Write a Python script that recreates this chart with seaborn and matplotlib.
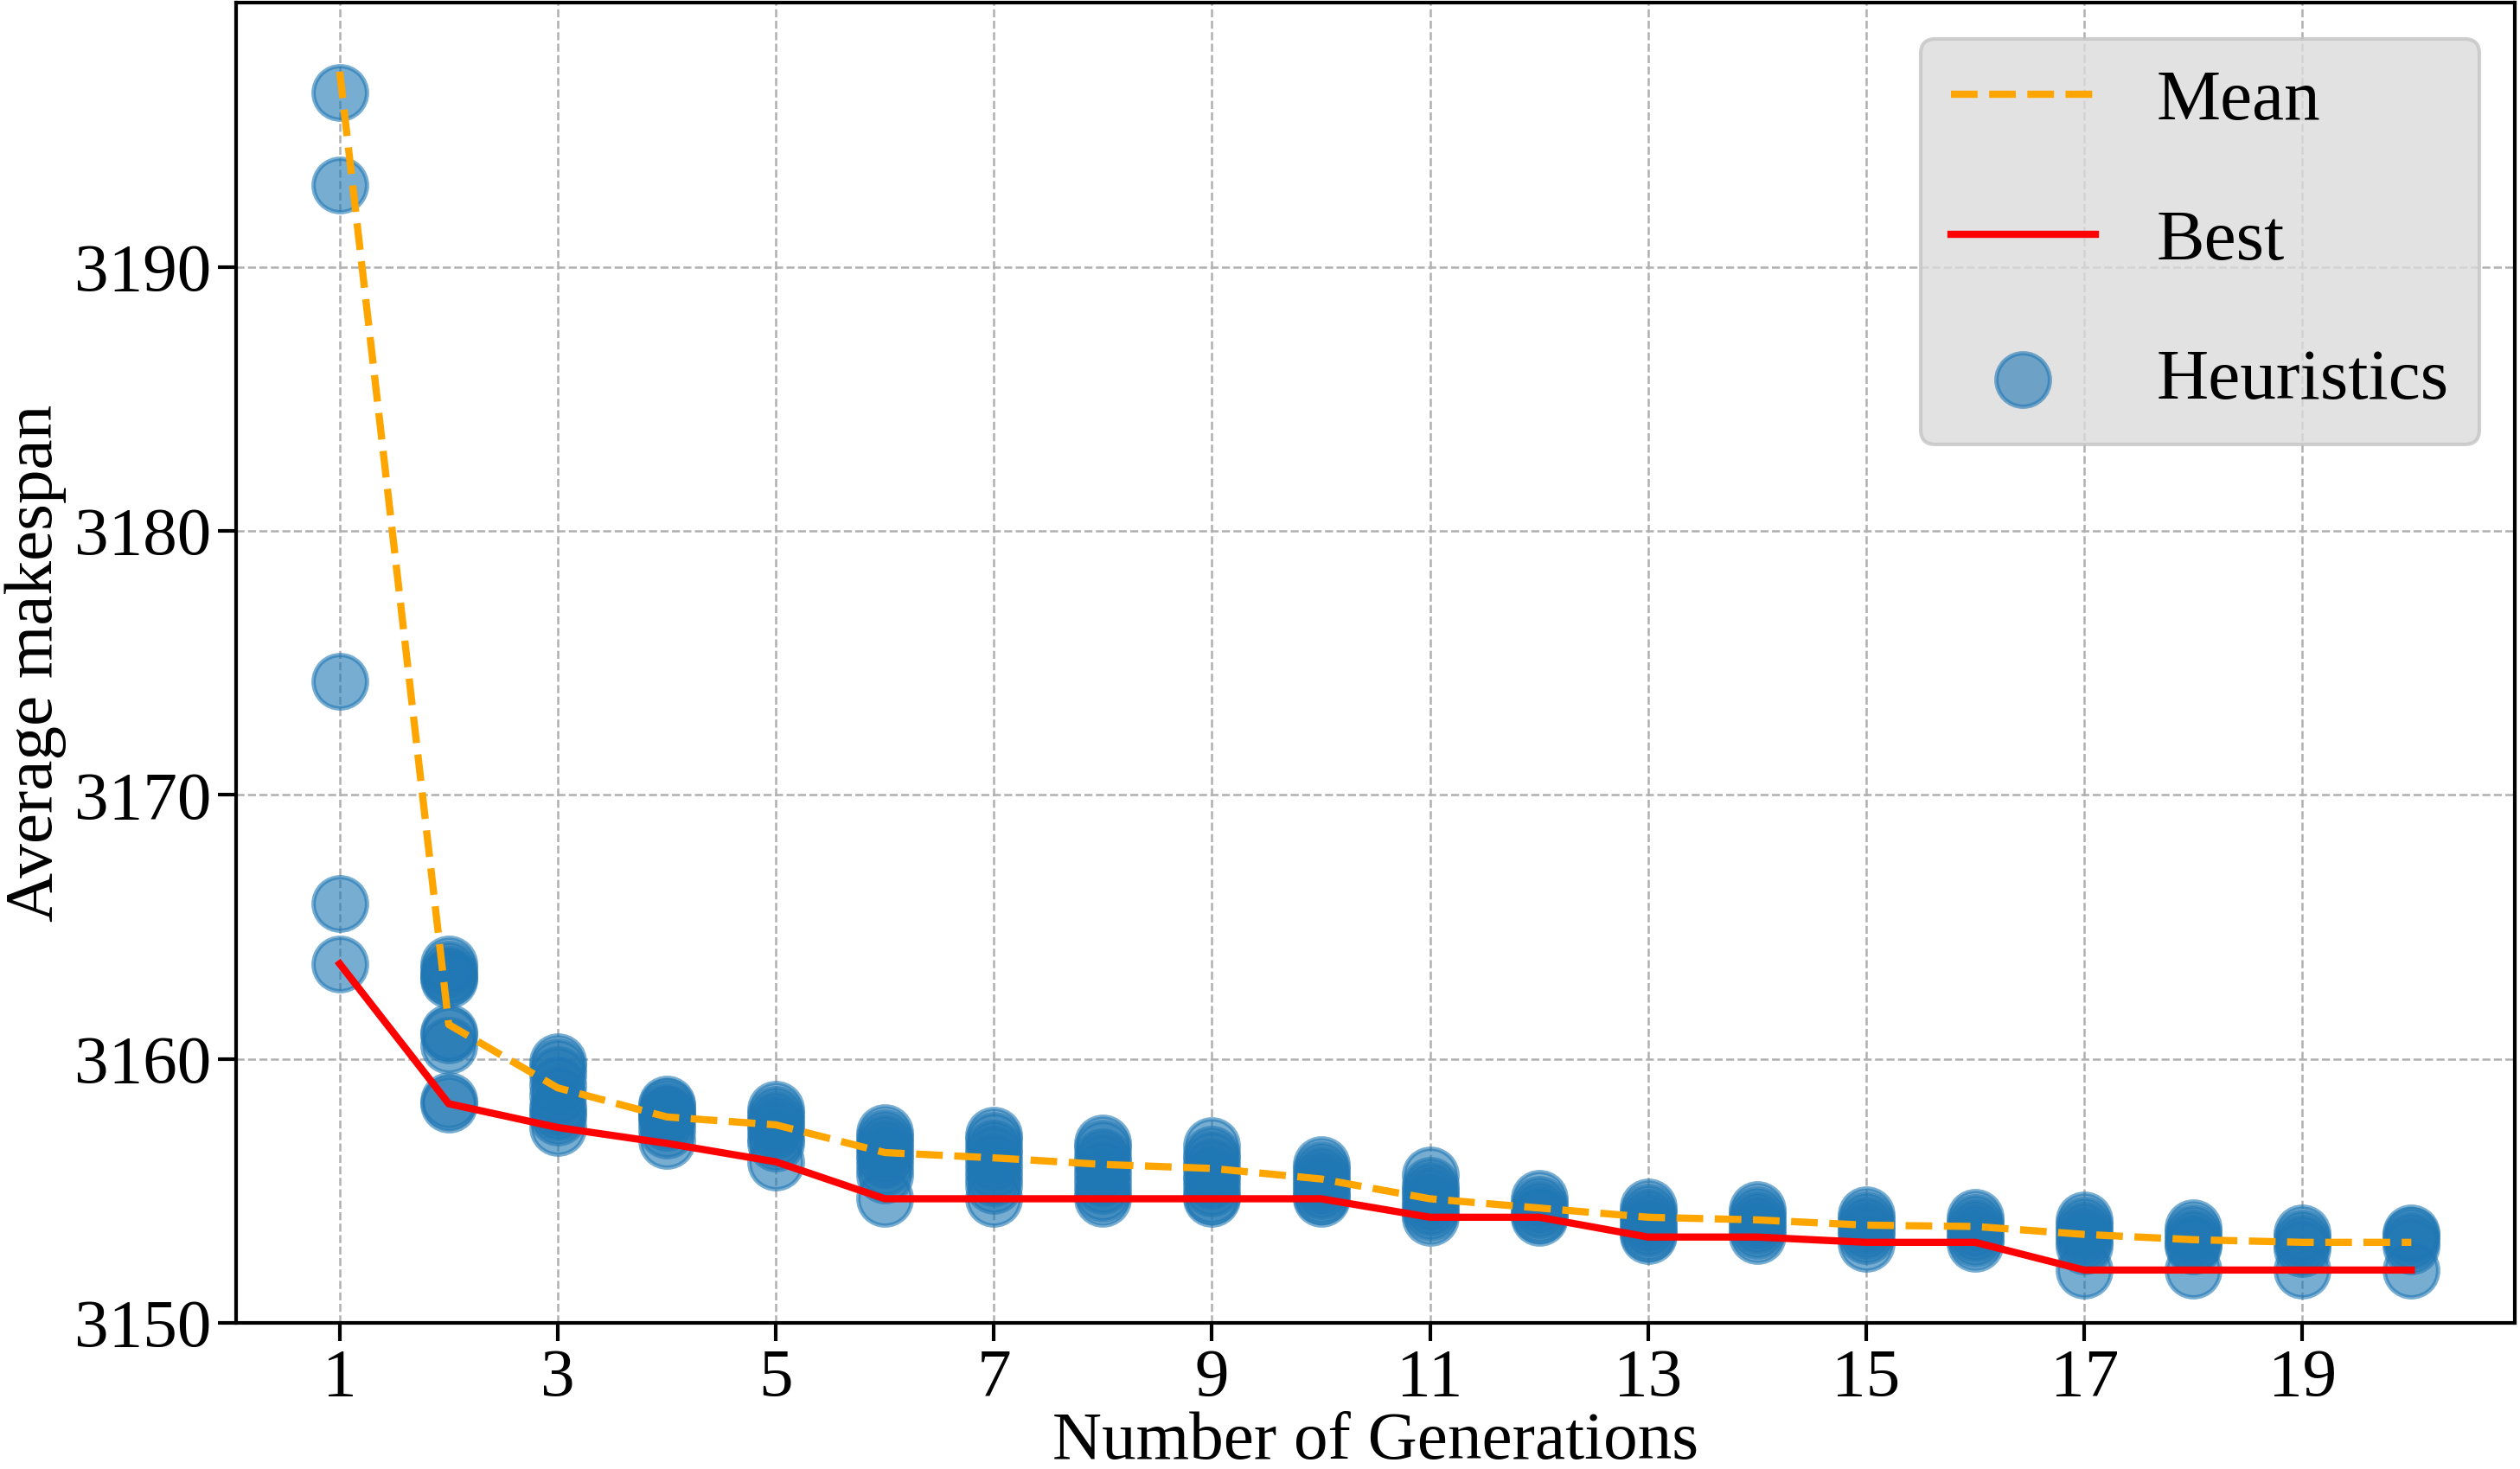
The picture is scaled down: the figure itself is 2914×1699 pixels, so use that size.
import pandas as pd
import matplotlib
matplotlib.use("Agg")
import matplotlib.pyplot as plt
import seaborn as sns

generations = list(range(1, 21))

mean_makespan = [3197.4, 3161.3, 3158.9, 3157.8, 3157.5, 3156.45, 3156.25, 3156.0, 3155.85, 3155.45,
                 3154.7, 3154.35, 3154.0, 3153.9, 3153.7, 3153.65, 3153.35, 3153.15, 3153.05, 3153.05]

best_makespan = [3163.6, 3158.3, 3157.4, 3156.8, 3156.1, 3154.7, 3154.7, 3154.7, 3154.7, 3154.7,
                 3154.0, 3154.0, 3153.25, 3153.25, 3153.05, 3153.05, 3152.0, 3152.0, 3152.0, 3152.0]

heuristics = {
    1: [3196.6, 3193.1, 3174.3, 3165.9, 3163.6],
    2: [3163.6, 3163.4, 3163.2, 3163.0, 3163.1, 3161.0, 3160.9, 3160.5, 3158.4, 3158.3],
    3: [3159.9, 3159.7, 3159.4, 3159.0, 3158.6, 3158.2, 3158.0, 3157.8, 3157.4],
    4: [3158.3, 3158.2, 3158.0, 3157.9, 3157.8, 3157.6, 3157.3, 3156.9],
    5: [3158.1, 3157.9, 3157.7, 3157.5, 3157.3, 3157.0, 3156.8, 3156.1],
    6: [3157.2, 3157.0, 3156.8, 3156.6, 3156.4, 3156.2, 3155.9, 3155.6, 3154.7],
    7: [3157.1, 3156.9, 3156.6, 3156.4, 3156.1, 3155.8, 3155.5, 3155.2, 3154.7],
    8: [3156.8, 3156.6, 3156.3, 3156.1, 3155.8, 3155.5, 3155.2, 3154.9, 3154.7],
    9: [3156.7, 3156.4, 3156.2, 3155.9, 3155.6, 3155.4, 3155.1, 3154.8, 3154.7],
    10: [3156.0, 3155.8, 3155.6, 3155.4, 3155.2, 3155.0, 3154.8, 3154.7],
    11: [3155.6, 3155.2, 3155.0, 3154.8, 3154.6, 3154.4, 3154.2, 3154.0],
    12: [3154.7, 3154.5, 3154.3, 3154.1, 3154.0],
    13: [3154.4, 3154.2, 3154.0, 3153.8, 3153.6, 3153.4, 3153.3],
    14: [3154.3, 3154.1, 3153.9, 3153.7, 3153.5, 3153.3],
    15: [3154.1, 3153.9, 3153.7, 3153.5, 3153.3, 3153.0],
    16: [3154.0, 3153.8, 3153.6, 3153.4, 3153.2, 3153.0],
    17: [3153.9, 3153.7, 3153.5, 3153.3, 3153.1, 3152.9, 3152.0],
    18: [3153.6, 3153.4, 3153.2, 3153.0, 3152.9, 3152.0],
    19: [3153.4, 3153.2, 3153.0, 3152.8, 3152.0],
    20: [3153.4, 3153.3, 3153.1, 3152.9, 3152.0],
}


def main():
    plt.rcParams['font.family'] = ['Liberation Serif', 'DejaVu Serif']

    lines_df = pd.DataFrame({'gen': generations, 'mean': mean_makespan, 'best': best_makespan})
    pts = pd.DataFrame([(g, v) for g, vals in heuristics.items() for v in vals], columns=['gen', 'value'])

    fig, ax = plt.subplots(figsize=(2914 / 300, 1699 / 300), dpi=300)
    fig.subplots_adjust(left=0.0937, right=0.998, top=0.998, bottom=0.0995)

    sns.lineplot(data=lines_df, x='gen', y='mean', ax=ax, color='orange', linestyle='--',
                 linewidth=2.0, label='Mean')
    sns.lineplot(data=lines_df, x='gen', y='best', ax=ax, color='red', linewidth=2.0, label='Best')
    sns.scatterplot(data=pts, x='gen', y='value', ax=ax, s=220, color='#1f77b4',
                    edgecolor='#1f77b4', linewidth=1.2, alpha=0.6, label='Heuristics')

    ax.set_xlim(0.05, 20.95)
    ax.set_ylim(3150, 3200)
    ax.set_xticks(range(1, 21, 2))
    ax.set_yticks(range(3150, 3200, 10))
    ax.tick_params(labelsize=19, width=1.0, length=5, pad=2)
    ax.set_xlabel('Number of Generations', fontsize=19, labelpad=0.5)
    ax.set_ylabel('Average makespan', fontsize=19, labelpad=2)
    ax.grid(True, linestyle='--', color='#b0b0b0', linewidth=0.6)
    ax.set_axisbelow(True)
    for sp in ax.spines.values():
        sp.set_linewidth(1.0)

    ax.legend(loc='upper right', fontsize=20, handlelength=2.0, handletextpad=0.85,
              labelspacing=1.02, borderpad=0.42, facecolor='#dbdbdb', edgecolor='#c4c4c4',
              framealpha=0.8, fancybox=True)

    fig.savefig('out.png', dpi=300)


if __name__ == '__main__':
    main()
